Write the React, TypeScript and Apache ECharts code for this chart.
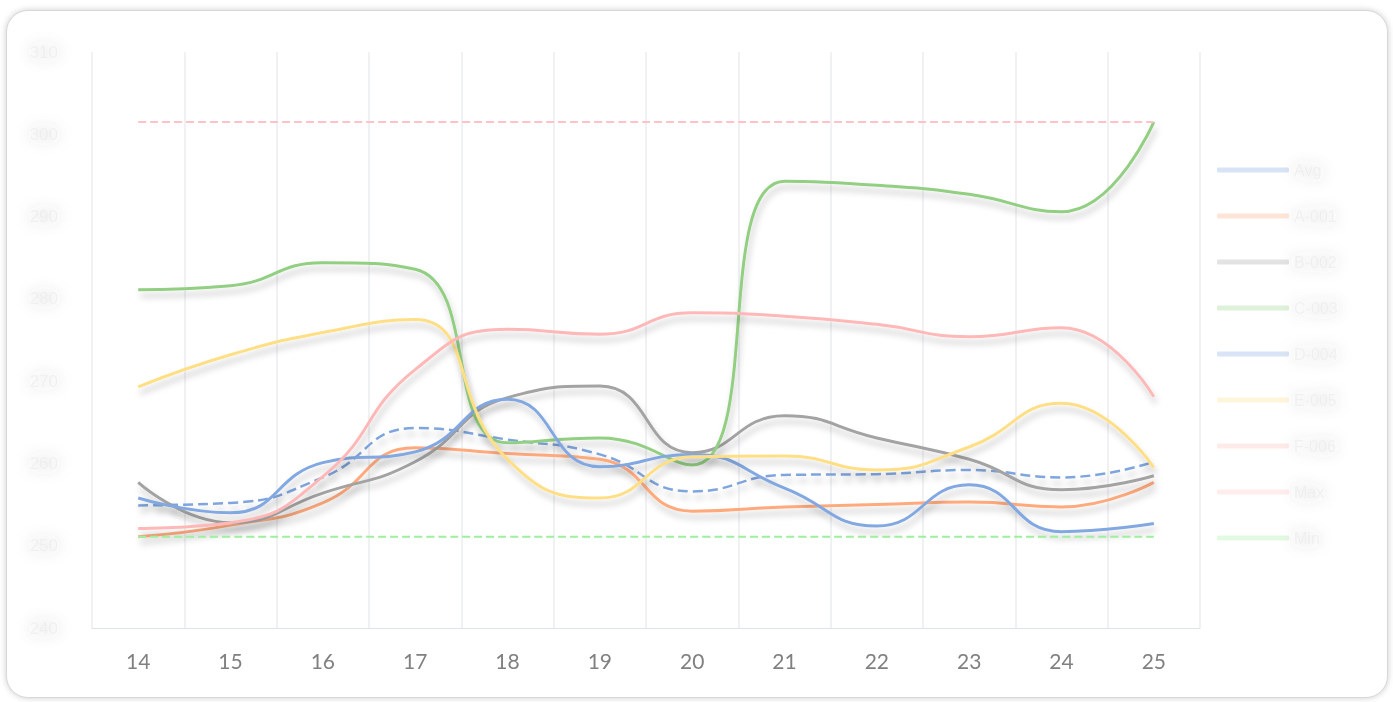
import React, { useEffect, useRef } from "react";
import * as echarts from "echarts";

const categories = ["14", "15", "16", "17", "18", "19", "20", "21", "22", "23", "24", "25"];
const yTicks = { min: 240, max: 310, interval: 10 };

const avgValues = [254.9, 255.2, 258.3, 264.3, 262.9, 261.1, 256.6, 258.6, 258.7, 259.2, 258.3, 260.2];
const seriesA = [251.1, 252.5, 255.2, 261.9, 261.2, 260.5, 254.2, 254.7, 255.0, 255.3, 254.7, 257.7];
const seriesB = [257.7, 252.8, 256.4, 260.2, 268.0, 269.4, 261.3, 265.8, 263.1, 260.5, 256.8, 258.5];
const seriesC = [281.1, 281.6, 284.4, 283.6, 262.5, 263.1, 259.8, 294.3, 293.8, 292.7, 290.6, 301.5];
const seriesD = [255.8, 254.0, 260.1, 261.4, 267.8, 259.6, 261.1, 257.0, 252.4, 257.4, 251.7, 252.7];
const seriesE = [269.3, 273.2, 275.9, 277.5, 260.5, 255.8, 260.8, 260.9, 259.2, 262.0, 267.3, 259.5];
const seriesF = [252.1, 252.8, 258.4, 271.4, 276.3, 275.7, 278.3, 277.9, 276.9, 275.4, 276.5, 268.1];
const maxValue = 301.5;
const minValue = 251.1;

const names = ["Avg", "A-001", "B-002", "C-003", "D-004", "E-005", "F-006", "Max", "Min"];

export default function App() {
  const ref = useRef<HTMLDivElement>(null);

  useEffect(() => {
    if (!ref.current) return;
    const chart = echarts.init(ref.current, null, { renderer: "svg" });
    const shadow = {
      shadowColor: "rgba(0,0,0,0.22)",
      shadowBlur: 6,
      shadowOffsetX: 2,
      shadowOffsetY: 6,
    };
    const mk = (name: string, data: number[], color: string, type: string, width: number, withShadow = true) => ({
      name,
      type: "line",
      data,
      smooth: true,
      symbol: "none",
      showSymbol: false,
      itemStyle: { color },
      lineStyle: { color, width, type, ...(withShadow ? shadow : {}) },
    });
    const blurText = {
      color: "rgba(215,215,215,0.3)",
      textShadowColor: "rgba(80,80,80,1)",
      textShadowBlur: 15,
      textShadowOffsetX: 0,
      textShadowOffsetY: 0,
    };
    chart.setOption({
      animation: false,
      backgroundColor: "transparent",
      grid: { left: 92, right: 193, top: 52, bottom: 74 },
      legend: {
        orient: "vertical",
        left: 1212,
        top: 157,
        icon: "roundRect",
        itemWidth: 72,
        itemHeight: 5,
        itemGap: 30,
        data: names,
        itemStyle: { opacity: 0.3 },
        textStyle: { fontSize: 16, ...blurText },
      },
      xAxis: {
        type: "category",
        data: categories,
        boundaryGap: true,
        axisLine: { lineStyle: { color: "#dde3ea", width: 1 } },
        axisTick: { show: false },
        axisLabel: { color: "#808080", fontSize: 21, fontFamily: "Lato", margin: 22 },
        splitLine: { show: true, lineStyle: { color: "#f0f1f3", width: 2 } },
      },
      yAxis: {
        type: "value",
        min: yTicks.min,
        max: yTicks.max,
        interval: yTicks.interval,
        axisLine: { show: false },
        axisTick: { show: false },
        splitLine: { show: false },
        axisLabel: { fontSize: 17, margin: 34, ...blurText },
      },
      series: [
        mk(names[0], avgValues, "#7fa5de", "dashed", 2.5),
        mk(names[1], seriesA, "#ffaa7d", "solid", 3),
        mk(names[2], seriesB, "#a3a3a3", "solid", 3),
        mk(names[3], seriesC, "#92cf82", "solid", 3),
        mk(names[4], seriesD, "#82a8e1", "solid", 3),
        mk(names[5], seriesE, "#ffdf85", "solid", 3),
        mk(names[6], seriesF, "#ffb8b8", "solid", 3),
        mk(names[7], categories.map(() => maxValue), "#ffc2c8", "dashed", 2, false),
        mk(names[8], categories.map(() => minValue), "#9df09d", "dashed", 2, false),
      ],
    });
    return () => chart.dispose();
  }, []);

  return (
    <div>
      <div
        style={{
          position: "fixed",
          left: 6,
          top: 10,
          width: 1380,
          height: 686,
          borderRadius: 22,
          border: "1.5px solid #d8d8d8",
          boxShadow: "0 0 6px rgba(0,0,0,0.2)",
          background: "#fff",
        }}
      />
      <div ref={ref} style={{ position: "fixed", left: 0, top: 0, width: 1393, height: 702 }} />
    </div>
  );
}
